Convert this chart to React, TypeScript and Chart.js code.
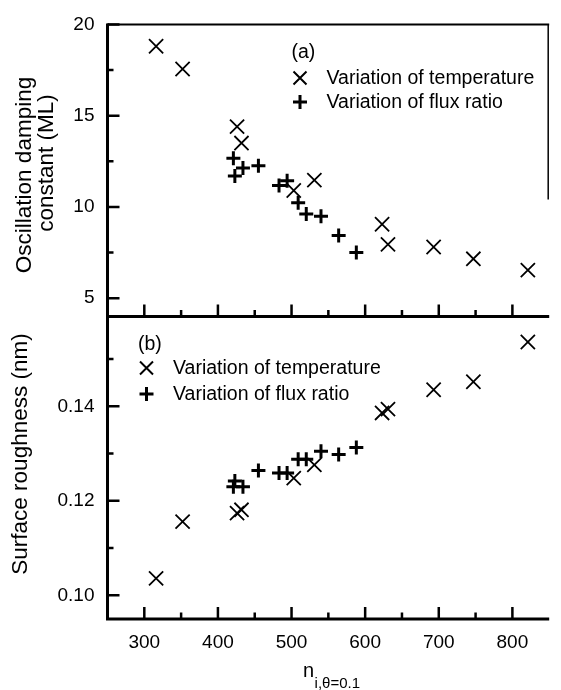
import { useEffect, useRef } from 'react';
import { Chart, registerables } from 'chart.js';

Chart.register(...registerables);

// Growth series obtained by varying the substrate temperature
const tempN = [316, 352, 426, 432, 503, 531, 623, 631, 693, 747, 821];
const tempDamping = [18.8, 17.56, 14.4, 13.5, 10.9, 11.47, 9.05, 7.95, 7.81, 7.16, 6.54];
const tempRoughness = [0.1036, 0.1156, 0.1174, 0.1181, 0.1248, 0.1276, 0.1386, 0.1394, 0.1435, 0.1452, 0.1536];

// Growth series obtained by varying the flux ratio
const fluxN = [421, 423, 434, 455, 483, 494, 509, 520, 540, 564, 588];
const fluxDamping = [12.67, 11.7, 12.14, 12.26, 11.17, 11.43, 10.23, 9.61, 9.49, 8.43, 7.51];
const fluxRoughness = [0.123, 0.1242, 0.123, 0.1264, 0.1259, 0.1259, 0.1288, 0.1288, 0.1305, 0.1298, 0.1313];

// Axis ticks
const xMajorTicks = [300, 400, 500, 600, 700, 800];
const xMinorTicks = [350, 450, 550, 650, 750];
const dampingTicks = [5, 10, 15, 20];
const dampingMinorTicks = [7.5, 12.5, 17.5];
const roughnessTicks = [0.1, 0.12, 0.14];
const roughnessMinorTicks = [0.11, 0.13, 0.15];

const W = 561;
const H = 690;
const FONT = '"Liberation Sans", Arial, Helvetica, sans-serif';
const AXIS_LEFT = 107.5;
const SPLIT_Y = 316.5;
const BOTTOM_Y = 619;

type Deco = {
  yMajor: number[];
  yMinor: number[];
  boxTop: boolean;
  draw: (ctx: CanvasRenderingContext2D) => void;
};

function drawX(ctx: CanvasRenderingContext2D, cx: number, cy: number, h: number, lw: number) {
  ctx.lineWidth = lw;
  ctx.beginPath();
  ctx.moveTo(cx - h, cy - h);
  ctx.lineTo(cx + h, cy + h);
  ctx.moveTo(cx - h, cy + h);
  ctx.lineTo(cx + h, cy - h);
  ctx.stroke();
}

function drawPlus(ctx: CanvasRenderingContext2D, cx: number, cy: number, h: number, lw: number) {
  ctx.lineWidth = lw;
  ctx.beginPath();
  ctx.moveTo(cx - h, cy);
  ctx.lineTo(cx + h, cy);
  ctx.moveTo(cx, cy - h);
  ctx.lineTo(cx, cy + h);
  ctx.stroke();
}

function drawLegend(ctx: CanvasRenderingContext2D, tag: string, left: number, tagY: number, xY: number, plusY: number) {
  ctx.fillStyle = '#000';
  ctx.strokeStyle = '#000';
  ctx.font = `19.5px ${FONT}`;
  ctx.textBaseline = 'middle';
  ctx.textAlign = 'left';
  ctx.fillText(tag, left, tagY);
  const sx = left + 8.5;
  drawX(ctx, sx, xY, 6.5, 2);
  drawPlus(ctx, sx, plusY, 7, 3);
  ctx.fillText('Variation of temperature', left + 35, xY + 1);
  ctx.fillText('Variation of flux ratio', left + 35, plusY + 1);
}

function framePlugin(id: string, deco: Deco) {
  return {
    id,
    afterDatasetsDraw(chart: any) {
      const { ctx, chartArea: a, scales } = chart;
      const xs = scales.x;
      const ys = scales.y;
      ctx.save();
      ctx.strokeStyle = '#000';
      ctx.lineCap = 'butt';

      // tick marks pointing into the plot
      ctx.lineWidth = 2.5;
      ctx.beginPath();
      for (const v of xMajorTicks) {
        const px = xs.getPixelForValue(v);
        ctx.moveTo(px, a.bottom);
        ctx.lineTo(px, a.bottom - 12);
      }
      for (const v of xMinorTicks) {
        const px = xs.getPixelForValue(v);
        ctx.moveTo(px, a.bottom);
        ctx.lineTo(px, a.bottom - 6.5);
      }
      for (const v of deco.yMajor) {
        const py = ys.getPixelForValue(v);
        ctx.moveTo(a.left, py);
        ctx.lineTo(a.left + 12, py);
      }
      for (const v of deco.yMinor) {
        const py = ys.getPixelForValue(v);
        ctx.moveTo(a.left, py);
        ctx.lineTo(a.left + 6, py);
      }
      ctx.stroke();

      // axis lines
      ctx.lineWidth = 3;
      ctx.beginPath();
      ctx.moveTo(a.left, a.top - (deco.boxTop ? 1 : 0));
      ctx.lineTo(a.left, a.bottom + 1.5);
      ctx.moveTo(a.left - 1.5, a.bottom);
      ctx.lineTo(a.right, a.bottom);
      ctx.stroke();

      if (deco.boxTop) {
        ctx.lineWidth = 2;
        ctx.beginPath();
        ctx.moveTo(a.left, a.top);
        ctx.lineTo(a.right, a.top);
        ctx.stroke();
        ctx.lineWidth = 1.5;
        ctx.beginPath();
        ctx.moveTo(a.right - 1, a.top);
        ctx.lineTo(a.right - 1, a.top + 175);
        ctx.stroke();
      }

      deco.draw(ctx);
      ctx.restore();
    },
  };
}

function points(xs: number[], ys: number[]) {
  return xs.map((x, i) => ({ x, y: ys[i] }));
}

function datasets(tempY: number[], fluxY: number[]) {
  return [
    {
      label: 'Variation of temperature',
      data: points(tempN, tempY),
      pointStyle: 'crossRot',
      pointRadius: 10,
      pointBorderWidth: 1.8,
      pointBorderColor: '#000',
      pointBackgroundColor: '#000',
      showLine: false,
    },
    {
      label: 'Variation of flux ratio',
      data: points(fluxN, fluxY),
      pointStyle: 'cross',
      pointRadius: 7,
      pointBorderWidth: 3,
      pointBorderColor: '#000',
      pointBackgroundColor: '#000',
      showLine: false,
    },
  ];
}

function yScale(min: number, max: number, ticks: number[], fmt: (v: number) => string) {
  return {
    type: 'linear',
    min,
    max,
    afterFit: (s: any) => {
      s.width = AXIS_LEFT;
    },
    afterBuildTicks: (s: any) => {
      s.ticks = ticks.map((v) => ({ value: v }));
    },
    grid: { display: false, drawTicks: false },
    border: { display: false },
    ticks: {
      color: '#000',
      padding: 13,
      font: { family: FONT, size: 19 },
      callback: (v: number) => fmt(v),
    },
  };
}

export default function App() {
  const topRef = useRef<HTMLCanvasElement>(null);
  const bottomRef = useRef<HTMLCanvasElement>(null);

  useEffect(() => {
    const top = new Chart(topRef.current as HTMLCanvasElement, {
      type: 'scatter',
      data: { datasets: datasets(tempDamping, fluxDamping) as any },
      options: {
        responsive: false,
        animation: false,
        devicePixelRatio: 1,
        layout: { padding: { top: 15, bottom: H - SPLIT_Y, left: 0, right: 0 } },
        plugins: { legend: { display: false }, tooltip: { enabled: false } },
        scales: {
          x: { type: 'linear', min: 250, max: 850, display: false },
          y: yScale(4, 20, dampingTicks, (v) => String(v)) as any,
        },
      },
      plugins: [
        framePlugin('topFrame', {
          yMajor: dampingTicks,
          yMinor: dampingMinorTicks,
          boxTop: true,
          draw: (ctx) => {
            drawLegend(ctx, '(a)', 291.5, 53, 78, 102);
            ctx.font = `22.5px ${FONT}`;
            ctx.textAlign = 'center';
            ctx.textBaseline = 'middle';
            ctx.save();
            ctx.translate(25, 175);
            ctx.rotate(-Math.PI / 2);
            ctx.fillText('Oscillation damping', 0, 0);
            ctx.restore();
            ctx.save();
            ctx.translate(47, 163);
            ctx.rotate(-Math.PI / 2);
            ctx.fillText('constant (ML)', 0, 0);
            ctx.restore();
          },
        }),
      ],
    });

    const bottom = new Chart(bottomRef.current as HTMLCanvasElement, {
      type: 'scatter',
      data: { datasets: datasets(tempRoughness, fluxRoughness) as any },
      options: {
        responsive: false,
        animation: false,
        devicePixelRatio: 1,
        layout: { padding: { top: SPLIT_Y, bottom: 0, left: 0, right: 0 } },
        plugins: { legend: { display: false }, tooltip: { enabled: false } },
        scales: {
          x: {
            type: 'linear',
            min: 250,
            max: 850,
            afterFit: (s: any) => {
              s.height = H - BOTTOM_Y;
            },
            afterBuildTicks: (s: any) => {
              s.ticks = xMajorTicks.map((v) => ({ value: v }));
            },
            grid: { display: false, drawTicks: false },
            border: { display: false },
            ticks: {
              color: '#000',
              padding: 12,
              maxRotation: 0,
              font: { family: FONT, size: 19 },
            },
          } as any,
          y: yScale(0.095, 0.159, roughnessTicks, (v) => v.toFixed(2)) as any,
        },
      },
      plugins: [
        framePlugin('bottomFrame', {
          yMajor: roughnessTicks,
          yMinor: roughnessMinorTicks,
          boxTop: false,
          draw: (ctx) => {
            drawLegend(ctx, '(b)', 138, 345, 368, 394);
            ctx.font = `22.5px ${FONT}`;
            ctx.textAlign = 'center';
            ctx.textBaseline = 'middle';
            ctx.save();
            ctx.translate(21, 454);
            ctx.rotate(-Math.PI / 2);
            ctx.fillText('Surface roughness (nm)', 0, 0);
            ctx.restore();

            // x-axis title: n with subscript i,θ=0.1
            ctx.textAlign = 'left';
            ctx.textBaseline = 'alphabetic';
            ctx.font = `20px ${FONT}`;
            const nx = 303;
            ctx.fillText('n', nx, 677);
            const nw = ctx.measureText('n').width;
            ctx.font = `15px ${FONT}`;
            ctx.fillText('i,θ=0.1', nx + nw + 0.5, 688);
          },
        }),
      ],
    });

    return () => {
      top.destroy();
      bottom.destroy();
    };
  }, []);

  const canvasStyle: React.CSSProperties = {
    position: 'absolute',
    left: 0,
    top: 0,
    width: W,
    height: H,
  };

  return (
    <div style={{ position: 'absolute', left: 0, top: 0, width: W, height: H, overflow: 'hidden', background: '#fff' }}>
      <canvas ref={bottomRef} width={W} height={H} style={canvasStyle} />
      <canvas ref={topRef} width={W} height={H} style={canvasStyle} />
    </div>
  );
}
